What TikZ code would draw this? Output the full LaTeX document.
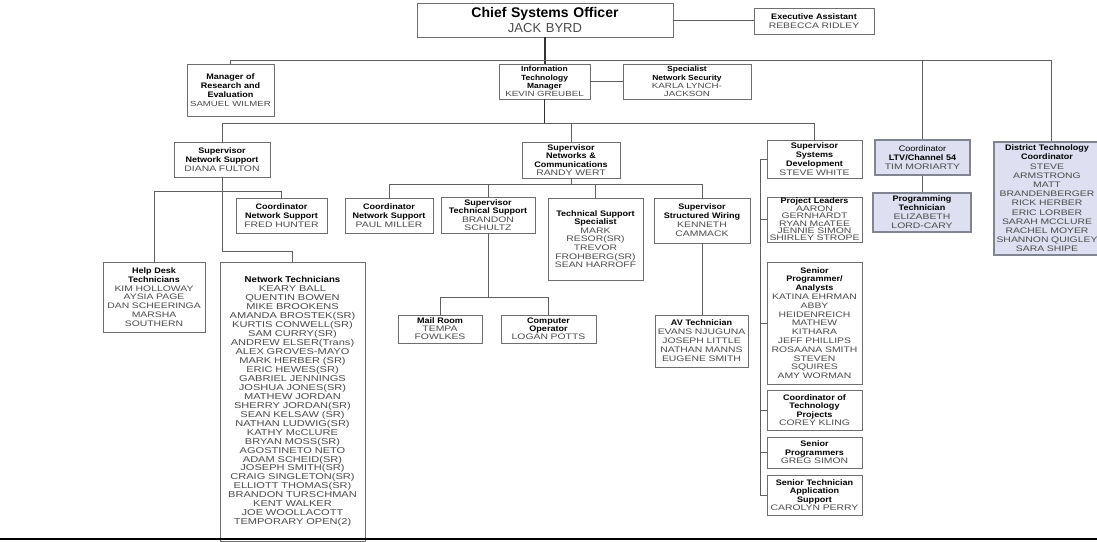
\documentclass[tikz,border=0pt]{standalone}
\usepackage{fontspec}
\setmainfont{Liberation Sans}
\newfontfamily\namefont{Liberation Sans}[FakeStretch=1.3]
\newfontfamily\titlefont{Liberation Sans}[FakeStretch=1.13]
\usetikzlibrary{positioning}

\definecolor{boxgray}{RGB}{110,110,110}
\definecolor{linegray}{RGB}{95,95,95}
\definecolor{namegray}{RGB}{75,75,75}
\definecolor{lavender}{RGB}{222,223,240}
\definecolor{rimgray}{RGB}{128,133,145}

\newcommand{\role}[1]{{\titlefont\bfseries #1}}
\newcommand{\who}[1]{{\namefont\color{namegray}#1}}

\tikzset{
	unit/.style = {draw=boxgray, line width=0.9pt, fill=white, align=center,
		inner sep=1pt, font=\fontsize{8}{9}\selectfont},
	shaded/.style = {unit, fill=lavender, draw=rimgray, line width=2pt},
	link/.style = {draw=linegray, line width=0.9pt},
	trunk/.style = {draw=black!80, line width=1.5pt}
}

\begin{document}
\begin{tikzpicture}[x=1pt, y=-1pt]
	\clip (0,0) rectangle (1097,541);

	% top level
	\node[unit, text width=254pt, minimum height=34pt, font=\fontsize{14}{15}\selectfont] (cso) at (545,20)
		{\textbf{Chief Systems Officer}\\{\fontsize{13}{15}\selectfont\color{namegray}JACK BYRD}};
	\node[unit, text width=118pt, minimum height=26pt] (ea) at (814,21)
		{\role{Executive Assistant}\\\who{REBECCA RIDLEY}};
	\node[unit, text width=85pt, minimum height=52pt] (mre) at (230.5,90)
		{\role{Manager of\\Research and\\Evaluation}\\{\fontsize{7.4}{9}\selectfont\who{SAMUEL WILMER}}};
	\node[unit, text width=89pt, minimum height=35pt, font=\fontsize{7.5}{8.3}\selectfont] (itm) at (544.5,81.5)
		{\role{Information\\Technology\\Manager}\\\who{KEVIN GREUBEL}};
	\node[unit, text width=126pt, minimum height=35pt, font=\fontsize{7.5}{8.3}\selectfont] (sns) at (687,81.5)
		{\role{Specialist\\Network Security}\\\who{KARLA LYNCH-\\JACKSON}};

	% supervisors
	\node[unit, text width=94pt, minimum height=35pt] (supnet) at (222,159.5)
		{\role{Supervisor\\Network Support}\\\who{DIANA FULTON}};
	\node[unit, text width=96pt, minimum height=36pt, font=\fontsize{8}{8.3}\selectfont] (supcom) at (571,160)
		{\role{Supervisor\\Networks \&\\Communications}\\\who{RANDY WERT}};
	\node[unit, text width=93pt, minimum height=38pt, font=\fontsize{8}{8.8}\selectfont] (supdev) at (814.5,159)
		{\role{Supervisor\\Systems\\Development}\\\who{STEVE WHITE}};
	\node[shaded, text width=93pt, minimum height=35pt] (ltv) at (922.5,157.5)
		{{\titlefont Coordinator}\\\role{LTV/Channel 54}\\\who{TIM MORIARTY}};
	\node[shaded, text width=104pt, minimum height=113pt, font=\fontsize{8}{9.2}\selectfont] (dtc) at (1047,198.5)
		{\role{District Technology\\Coordinator}\\\who{STEVE\\ARMSTRONG\\MATT\\BRANDENBERGER\\RICK HERBER\\ERIC LORBER\\SARAH MCCLURE\\RACHEL MOYER\\SHANNON QUIGLEY\\SARA SHIPE}};

	% network support
	\node[unit, text width=89pt, minimum height=35pt] (fred) at (281.5,215.5)
		{\role{Coordinator\\Network Support}\\\who{FRED HUNTER}};
	\node[unit, text width=100pt, minimum height=70pt, font=\fontsize{8}{8.8}\selectfont] (helpdesk) at (154,297)
		{\role{Help Desk\\Technicians}\\\who{KIM HOLLOWAY\\AYSIA PAGE\\DAN SCHEERINGA\\MARSHA\\SOUTHERN}};
	\node[unit, text width=143pt, minimum height=279pt, font=\fontsize{8.5}{8.97}\selectfont] (nettech) at (292.5,401.5)
		{\role{Network Technicians}\\\who{KEARY BALL\\QUENTIN BOWEN\\MIKE BROOKENS\\AMANDA BROSTEK(SR)\\KURTIS CONWELL(SR)\\SAM CURRY(SR)\\ANDREW ELSER(Trans)\\ALEX GROVES-MAYO\\MARK HERBER (SR)\\ERIC HEWES(SR)\\GABRIEL JENNINGS\\JOSHUA JONES(SR)\\MATHEW JORDAN\\SHERRY JORDAN(SR)\\SEAN KELSAW (SR)\\NATHAN LUDWIG(SR)\\KATHY McCLURE\\BRYAN MOSS(SR)\\AGOSTINETO NETO\\ADAM SCHEID(SR)\\JOSEPH SMITH(SR)\\CRAIG SINGLETON(SR)\\ELLIOTT THOMAS(SR)\\BRANDON TURSCHMAN\\KENT WALKER\\JOE WOOLLACOTT\\TEMPORARY OPEN(2)}};

	% networks and communications
	\node[unit, text width=86pt, minimum height=35pt] (paul) at (389,215.5)
		{\role{Coordinator\\Network Support}\\\who{PAUL MILLER}};
	\node[unit, text width=92pt, minimum height=36pt, font=\fontsize{8}{8.3}\selectfont] (brandon) at (488,215)
		{\role{Supervisor\\Technical Support}\\\who{BRANDON\\SCHULTZ}};
	\node[unit, text width=93pt, minimum height=82pt, font=\fontsize{8}{8.6}\selectfont] (tss) at (595.5,239)
		{\role{Technical Support\\Specialist}\\\who{MARK\\RESOR(SR)\\TREVOR\\FROHBERG(SR)\\SEAN HARROFF}};
	\node[unit, text width=94pt, minimum height=45pt] (wiring) at (702,220.5)
		{\role{Supervisor\\Structured Wiring}\\\who{KENNETH\\CAMMACK}};
	\node[unit, text width=82pt, minimum height=28pt, font=\fontsize{8}{8}\selectfont] (mail) at (440,329)
		{\role{Mail Room}\\\who{TEMPA\\FOWLKES}};
	\node[unit, text width=93pt, minimum height=28pt, font=\fontsize{8}{8}\selectfont] (compop) at (548.5,329)
		{\role{Computer\\Operator}\\\who{LOGAN POTTS}};
	\node[unit, text width=91pt, minimum height=52pt] (av) at (701.5,341)
		{\role{AV Technician}\\\who{EVANS NJUGUNA\\JOSEPH LITTLE\\NATHAN MANNS\\EUGENE SMITH}};

	% systems development
	\node[unit, text width=93pt, minimum height=45pt, font=\fontsize{8}{7.4}\selectfont] (pl) at (814.5,219.5)
		{\role{Project Leaders}\\\who{AARON\\GERNHARDT\\RYAN McATEE\\JENNIE SIMON\\SHIRLEY STROPE}};
	\node[unit, text width=93pt, minimum height=122pt, font=\fontsize{8}{8.8}\selectfont] (spa) at (814.5,323)
		{\role{Senior\\Programmer/\\Analysts}\\\who{KATINA EHRMAN\\ABBY\\HEIDENREICH\\MATHEW\\KITHARA\\JEFF PHILLIPS\\ROSAANA SMITH\\STEVEN\\SQUIRES\\AMY WORMAN}};
	\node[unit, text width=93pt, minimum height=40pt, font=\fontsize{8}{8.5}\selectfont] (ctp) at (814.5,410)
		{\role{Coordinator of\\Technology\\Projects}\\\who{COREY KLING}};
	\node[unit, text width=93pt, minimum height=31pt, font=\fontsize{8}{8.5}\selectfont] (sp) at (814.5,452.5)
		{\role{Senior\\Programmers}\\\who{GREG SIMON}};
	\node[unit, text width=93pt, minimum height=40pt, font=\fontsize{8}{8.5}\selectfont] (sta) at (814.5,495)
		{\role{Senior Technician\\Application\\Support}\\\who{CAROLYN PERRY}};
	\node[shaded, text width=96pt, minimum height=39pt] (progtech) at (922,212.5)
		{\role{Programming\\Technician}\\\who{ELIZABETH\\LORD-CARY}};

	% connectors
	\coordinate (dtcdrop) at (1051,60);
	\coordinate (bus2) at (0,123);
	\coordinate (nsbus) at (0,191);
	\coordinate (ntbend) at (0,251);
	\coordinate (ncbus) at (0,184);
	\coordinate (tsbus) at (0,297);
	\coordinate (spine) at (760,0);

	\draw[link] (cso.east) -- (ea.west |- cso.east);
	\draw[trunk] (cso.south) -- (cso.south |- itm.north);
	\draw[link] (mre.north) |- (dtcdrop) -- (dtcdrop |- dtc.north);
	\draw[link] (ltv.north) -- (ltv.north |- dtcdrop);
	\draw[link] (itm.east) -- (sns.west);
	\draw[trunk] (itm.south) -- (itm.south |- bus2);
	\draw[link] (supnet.north) |- (supdev.north |- bus2) -- (supdev.north);
	\draw[link] (supcom.north) -- (supcom.north |- bus2);

	\draw[link] (supnet.south) |- (nettech.north |- ntbend) -- (nettech.north);
	\draw[link] (helpdesk.north) |- (fred.north |- nsbus) -- (fred.north);

	\draw[link] (supcom.south) -- (supcom.south |- ncbus);
	\draw[link] (paul.north) |- (wiring.north |- ncbus) -- (wiring.north);
	\draw[link] (brandon.north) -- (brandon.north |- ncbus);
	\draw[link] (tss.north) -- (tss.north |- ncbus);
	\draw[link] (brandon.south) -- (brandon.south |- tsbus);
	\draw[link] (mail.north) |- (compop.north |- tsbus) -- (compop.north);
	\draw[link] (wiring.south) -- (wiring.south |- av.north);
	\draw[link] (ltv.south) -- (ltv.south |- progtech.north);

	\draw[link] (supdev.west) -| (spine |- sta.west) -- (sta.west);
	\foreach \b in {pl,spa,ctp,sp}
		\draw[link] (\b.west) -- (spine |- \b.west);

	% page rule
	\draw[line width=1.6pt] (0,539) -- (1097,539);
\end{tikzpicture}
\end{document}
